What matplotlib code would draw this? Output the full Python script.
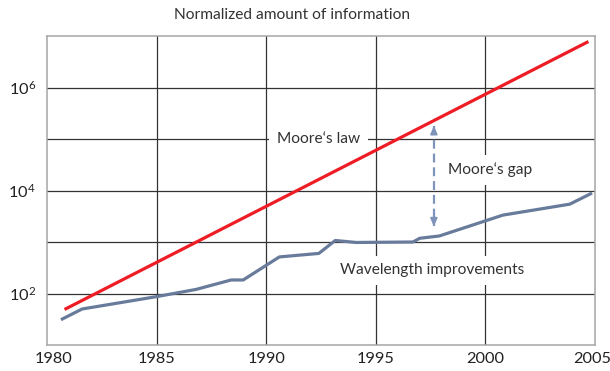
import matplotlib
matplotlib.use("Agg")
import matplotlib.pyplot as plt
from matplotlib.transforms import ScaledTranslation

plt.rcParams["font.family"] = ["Lato", "DejaVu Sans"]
plt.rcParams["mathtext.fontset"] = "custom"
plt.rcParams["mathtext.rm"] = "Lato"
plt.rcParams["mathtext.it"] = "Lato:italic"

# Moore's law trend (end points of a straight line on a log axis)
moore_years = [1980.8, 2004.7]
moore_values = [49, 7.8e6]

# Lithography wavelength improvements
wave_years = [1980.7, 1981.6, 1985.0, 1986.8, 1988.4, 1988.95, 1990.6, 1992.4,
              1993.15, 1994.1, 1996.7, 1997.0, 1997.9, 2000.8, 2003.85, 2004.8]
wave_values = [32, 50, 87, 120, 183, 183, 513, 600,
               1070, 980, 1000, 1180, 1310, 3330, 5430, 8650]

# "Moore's gap" arrow: year and value range
gap_year = 1997.65
gap_values = [1.76e5, 2.05e3]

x_ticks = [1980, 1985, 1990, 1995, 2000, 2005]
y_ticks = [1e2, 1e4, 1e6]
y_tick_labels = [r"$\mathregular{10^{2}}$", r"$\mathregular{10^{4}}$", r"$\mathregular{10^{6}}$"]
grid_decades = [1e2, 1e3, 1e4, 1e5, 1e6]

red = "#ee1c25"
slate = "#687b9b"
arrow_col = "#7d93b9"
grid_col = "#333333"
spine_col = "#a6a6a6"
text_col = "#333333"

fig = plt.figure(figsize=(6.10, 3.71), dpi=100)
ax = fig.add_axes([47 / 610, 1 - 345 / 371, (595 - 47) / 610, (345 - 36) / 371])
ax.set_yscale("log")
ax.set_xlim(1980, 2005)
ax.set_ylim(10, 1e7)

for y in grid_decades:
    ax.axhline(y, color=grid_col, lw=0.9, zorder=1)
for x in x_ticks[1:-1]:
    ax.axvline(x, color=grid_col, lw=0.9, zorder=1)

for s in ax.spines.values():
    s.set_color(spine_col)
    s.set_linewidth(1.1)

ax.plot(moore_years, moore_values, color=red, lw=2.3, solid_capstyle="butt", zorder=4)
ax.plot(wave_years, wave_values, color=slate, lw=2.3, solid_joinstyle="round", zorder=4)

# Dashed double arrow for the gap
ax.plot([gap_year, gap_year], gap_values, color=arrow_col, lw=1.6,
        dashes=(4, 2.2), zorder=4)
head = dict(arrowstyle="-|>,head_length=0.45,head_width=0.2", color=arrow_col, lw=1.4,
            shrinkA=0, shrinkB=0)
ax.annotate("", xy=(gap_year, gap_values[0] * 1.02), xytext=(gap_year, gap_values[0] * 0.8),
            arrowprops=head, zorder=5)
ax.annotate("", xy=(gap_year, gap_values[1] * 0.98), xytext=(gap_year, gap_values[1] * 1.25),
            arrowprops=head, zorder=5)

box = dict(boxstyle="square,pad=0.5", fc="white", ec="none")
ax.text(1992.4, 1e5, "Moore\u2018s law", ha="center", va="center", fontsize=11.2,
        color=text_col, bbox=box, zorder=3)
ax.text(2000.2, 2.5e4, "Moore\u2018s gap", ha="center", va="center", fontsize=11.2,
        color=text_col, bbox=box, zorder=3)
ax.text(1997.55, 2.8e2, "Wavelength improvements", ha="center", va="center", fontsize=11.2,
        color=text_col, bbox=box, zorder=3)

ax.set_xticks(x_ticks)
ax.set_xticklabels([str(t) for t in x_ticks])
ax.set_yticks(y_ticks)
ax.set_yticklabels(y_tick_labels)
ax.yaxis.set_minor_locator(matplotlib.ticker.NullLocator())
ax.tick_params(axis="both", length=0, labelsize=11.8, colors="#222222")
ax.tick_params(axis="x", pad=5)
ax.tick_params(axis="y", pad=8)
labels = ax.get_xticklabels()
labels[0].set_transform(labels[0].get_transform() + ScaledTranslation(7 / 100, 0, fig.dpi_scale_trans))
labels[-1].set_transform(labels[-1].get_transform() + ScaledTranslation(-2.5 / 100, 0, fig.dpi_scale_trans))

fig.text(292 / 610, 1 - 15 / 371, "Normalized amount of information", ha="center", va="center",
         fontsize=11.2, color=text_col)

fig.savefig("out.png", dpi=100, facecolor="white")
